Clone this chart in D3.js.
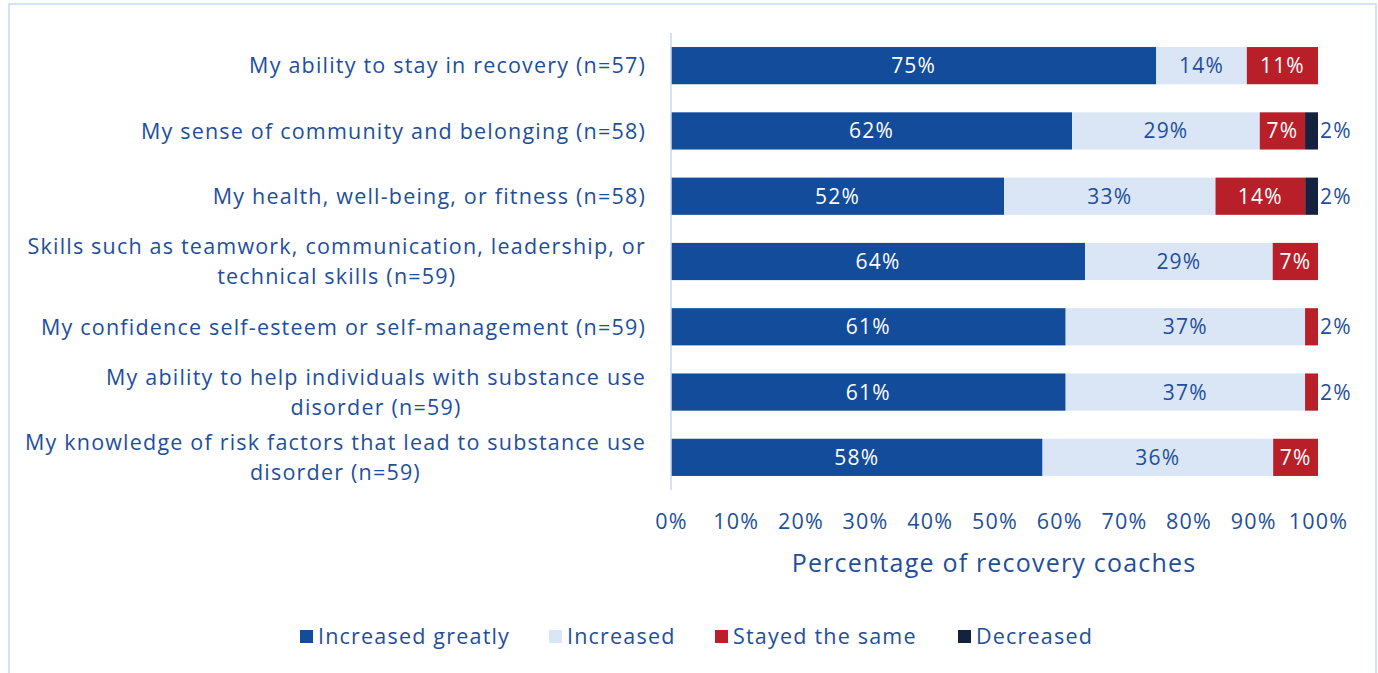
<!DOCTYPE html>
<html>
<head>
<meta charset="utf-8">
<script src="https://cdn.jsdelivr.net/npm/d3@7"></script>
<style>
  html, body { margin: 0; padding: 0; background: #ffffff; }
  svg { display: block; font-family: "Open Sans", "Lato", sans-serif; letter-spacing: 1.2px; }
</style>
</head>
<body>
<svg id="chart" width="1378" height="673"></svg>
<script>
// Survey items (each label split into its display lines)
const categories = [
  ["My ability to stay in recovery (n=57)"],
  ["My sense of community and belonging (n=58)"],
  ["My health, well-being, or fitness (n=58)"],
  ["Skills such as teamwork, communication, leadership, or", "technical skills (n=59)"],
  ["My confidence self-esteem or self-management (n=59)"],
  ["My ability to help individuals with substance use", "disorder (n=59)"],
  ["My knowledge of risk factors that lead to substance use", "disorder (n=59)"]
];
const seriesNames = ["Increased greatly", "Increased", "Stayed the same", "Decreased"];
const increasedGreatly = [75, 62, 52, 64, 61, 61, 58];
const increased        = [14, 29, 33, 29, 37, 37, 36];
const stayedSame       = [11, 7, 14, 7, 2, 2, 7];
const decreased        = [0, 2, 2, 0, 0, 0, 0];
const tickValues = [0, 0.1, 0.2, 0.3, 0.4, 0.5, 0.6, 0.7, 0.8, 0.9, 1.0];
const axisTitle = "Percentage of recovery coaches";

const colors = ["#134c9b", "#dae6f6", "#b91f29", "#14223f"];
const labelColors = ["#ffffff", "#1d4f9c", "#ffffff", "#ffffff"];
const textBlue = "#1d4f9c";

const svg = d3.select("#chart");

// Panel border
svg.append("rect")
  .attr("x", 9).attr("y", 4).attr("width", 1367).attr("height", 680)
  .attr("fill", "none").attr("stroke", "#d5e2f5").attr("stroke-width", 2);

const rows = categories.map((c, i) => ({
  key: i,
  "Increased greatly": increasedGreatly[i],
  "Increased": increased[i],
  "Stayed the same": stayedSame[i],
  "Decreased": decreased[i]
}));

// Shares are normalised per row, so every bar spans the full 0–100% width
const stack = d3.stack().keys(seriesNames).offset(d3.stackOffsetExpand);
const stacked = stack(rows);

const x = d3.scaleLinear().domain([0, 1]).range([671, 1318]);
const y = d3.scaleBand().domain(d3.range(categories.length)).range([33, 490]).paddingInner(0.43).paddingOuter(0.215);

// Bars
const layers = svg.append("g").selectAll("g")
  .data(stacked).join("g")
  .attr("fill", (d, i) => colors[i]);

layers.selectAll("rect")
  .data(d => d.filter(p => p[1] - p[0] > 0))
  .join("rect")
  .attr("x", p => x(p[0]))
  .attr("y", p => y(p.data.key))
  .attr("width", p => x(p[1]) - x(p[0]))
  .attr("height", y.bandwidth());

// Value labels (thin segments get their label just past the bar end)
stacked.forEach((layer, si) => {
  const g = svg.append("g").attr("font-size", 21);
  layer.forEach((p, ri) => {
    const v = rows[ri][seriesNames[si]];
    if (!v) return;
    const w = x(p[1]) - x(p[0]);
    const cy = y(ri) + y.bandwidth() / 2;
    const small = w < 25;
    g.append("text")
      .attr("x", small ? x(p[1]) + 2 : (x(p[0]) + x(p[1])) / 2)
      .attr("y", cy)
      .attr("dy", "0.36em")
      .attr("text-anchor", small ? "start" : "middle")
      .attr("fill", small ? textBlue : labelColors[si])
      .text(v + "%");
  });
});

// Vertical axis line
svg.append("line")
  .attr("x1", 671).attr("x2", 671).attr("y1", 33).attr("y2", 490)
  .attr("stroke", "#c9d9f0").attr("stroke-width", 1.5);

// Category labels: each block right-aligned, lines centred within the block
const catG = svg.append("g").attr("font-size", 21.5).attr("fill", textBlue);
categories.forEach((lines, i) => {
  const cy = y(i) + y.bandwidth() / 2;
  const t = catG.append("text").attr("text-anchor", "middle");
  const spans = lines.map((ln, k) => t.append("tspan").text(ln));
  const maxW = d3.max(spans, s => s.node().getComputedTextLength());
  const cx = 646 - maxW / 2;
  const lh = 30;
  spans.forEach((s, k) => {
    s.attr("x", cx).attr("y", cy + (k - (lines.length - 1) / 2) * lh).attr("dy", "0.36em");
  });
});

// X axis tick labels
const xAxis = d3.axisBottom(x).tickValues(tickValues).tickFormat(d3.format(".0%")).tickSize(0).tickPadding(0);
const ax = svg.append("g").attr("transform", "translate(0,514)").call(xAxis);
ax.select(".domain").remove();
ax.selectAll("text").attr("font-size", 21.5).attr("fill", textBlue).attr("font-family", "Open Sans, sans-serif");

// Axis title
svg.append("text")
  .attr("x", 994).attr("y", 563).attr("dy", "0.36em")
  .attr("text-anchor", "middle").attr("font-size", 25).attr("fill", textBlue)
  .text(axisTitle);

// Legend
const legendX = [300, 549, 715, 958];
const lg = svg.append("g").attr("font-size", 21.5).attr("fill", textBlue);
seriesNames.forEach((name, i) => {
  lg.append("rect").attr("x", legendX[i]).attr("y", 630).attr("width", 13).attr("height", 13).attr("fill", colors[i]);
  lg.append("text").attr("x", legendX[i] + 18).attr("y", 636).attr("dy", "0.36em").text(name);
});
</script>
</body>
</html>
